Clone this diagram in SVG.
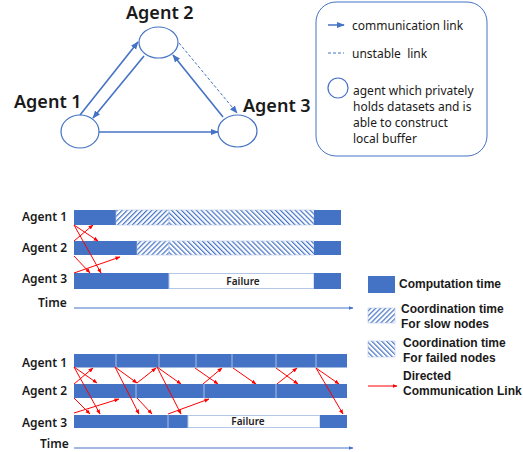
<svg xmlns="http://www.w3.org/2000/svg" width="523" height="452" viewBox="0 0 523 452">
<style>
.lbl{font-family:"Noto Sans","Liberation Sans",sans-serif;font-weight:600;fill:#1a1a1a}
.big{font-size:18px}
.sm{font-size:12px}
.leg{font-family:"Noto Sans","Liberation Sans",sans-serif;font-size:12px;fill:#1a1a1a}
.leg2{font-family:"Liberation Sans",Arial,sans-serif;font-size:12px;font-weight:bold;fill:#1a1a1a}
.node{fill:#fff;stroke:#4472C4;stroke-width:1.2}
.blue{stroke:#4472C4;stroke-width:1.6;fill:none;marker-end:url(#ab)}
.dash{stroke:#4472C4;stroke-width:1;stroke-dasharray:3 2;fill:none;marker-end:url(#ab)}
.red{stroke:#FF0000;stroke-width:1;fill:none;marker-end:url(#ar)}
.bar{fill:#4472C4}
.div{stroke:#A9BEE6;stroke-width:1}
.fail{fill:#fff;stroke:#B4C7E7;stroke-width:1}
.ftxt{font-family:"Noto Sans","Liberation Sans",sans-serif;font-size:10px;font-weight:600;fill:#222;text-anchor:middle}
.time{stroke:#4472C4;stroke-width:1;fill:none;marker-end:url(#at)}
</style>
<defs>
<marker id="ab" viewBox="0 0 10 10" refX="9" refY="5" markerWidth="8" markerHeight="8" markerUnits="userSpaceOnUse" orient="auto"><path d="M0,1 L10,5 L0,9 Z" fill="#4472C4"/></marker>
<marker id="ar" viewBox="0 0 10 10" refX="9" refY="5" markerWidth="5" markerHeight="5" markerUnits="userSpaceOnUse" orient="auto"><path d="M0,1 L10,5 L0,9 Z" fill="#FF0000"/></marker>
<marker id="at" viewBox="0 0 10 10" refX="9" refY="5" markerWidth="5" markerHeight="5" markerUnits="userSpaceOnUse" orient="auto"><path d="M0,1 L10,5 L0,9 Z" fill="#4472C4"/></marker>
<pattern id="slow" width="3.5" height="3.5" patternUnits="userSpaceOnUse" patternTransform="rotate(45)"><rect width="3.5" height="3.5" fill="#fff"/><line x1="0.6" y1="0" x2="0.6" y2="3.5" stroke="#4472C4" stroke-width="1.2"/></pattern>
<pattern id="failed" width="3.5" height="3.5" patternUnits="userSpaceOnUse" patternTransform="rotate(-45)"><rect width="3.5" height="3.5" fill="#fff"/><line x1="0.6" y1="0" x2="0.6" y2="3.5" stroke="#4472C4" stroke-width="1.2"/></pattern>
</defs>

<!-- Top graph -->
<g id="agent1"><ellipse class="node" cx="80" cy="131.5" rx="19" ry="16.5"/><text class="lbl big" x="14" y="108">Agent 1</text></g>
<g id="agent2"><ellipse class="node" cx="158.5" cy="42.5" rx="19.5" ry="15.5"/><text class="lbl big" x="126" y="19">Agent 2</text></g>
<g id="agent3"><ellipse class="node" cx="237.5" cy="131" rx="19.5" ry="16"/><text class="lbl big" x="243" y="112">Agent 3</text></g>
<g id="connectors">
<line class="blue" x1="80" y1="115" x2="138" y2="42"/>
<line class="blue" x1="144" y1="56" x2="93" y2="118"/>
<line class="blue" x1="223" y1="117" x2="173" y2="55"/>
<line class="dash" x1="179" y1="43" x2="237" y2="113"/>
<line class="blue" x1="99" y1="132" x2="218" y2="132"/>
</g>

<!-- Top legend -->
<g id="legend-top">
<rect x="316" y="2" width="171" height="154" rx="20" fill="#fff" stroke="#4472C4" stroke-width="1"/>
<line class="blue" x1="328" y1="25" x2="344" y2="25" style="stroke-width:1.5"/>
<text class="leg" x="352" y="30">communication link</text>
<line x1="328" y1="53" x2="344" y2="53" stroke="#4472C4" stroke-width="1" stroke-dasharray="3 2"/>
<text class="leg" x="352" y="58" xml:space="preserve">unstable  link</text>
<circle cx="338" cy="88" r="10" fill="#fff" stroke="#4472C4" stroke-width="1.2"/>
<text class="leg" x="353" y="95">agent which privately</text>
<text class="leg" x="353" y="111">holds datasets and is</text>
<text class="leg" x="353" y="127">able to construct</text>
<text class="leg" x="353" y="143">local buffer</text>
</g>

<!-- Timeline 1 -->
<g id="timeline1">
<text class="lbl sm" x="22" y="221">Agent 1</text>
<text class="lbl sm" x="22" y="252">Agent 2</text>
<text class="lbl sm" x="22" y="283">Agent 3</text>
<text class="lbl sm" x="38" y="307">Time</text>
<rect class="bar" x="74" y="210" width="42" height="15"/>
<rect x="116" y="210" width="53" height="15" fill="url(#slow)" stroke="#B4C7E7" stroke-width="0.6"/>
<rect x="169" y="210" width="145" height="15" fill="url(#failed)" stroke="#B4C7E7" stroke-width="0.6"/>
<rect class="bar" x="314" y="210" width="27" height="15"/>
<rect class="bar" x="74" y="241" width="63" height="14"/>
<rect x="137" y="241" width="32" height="14" fill="url(#slow)" stroke="#B4C7E7" stroke-width="0.6"/>
<rect x="169" y="241" width="145" height="14" fill="url(#failed)" stroke="#B4C7E7" stroke-width="0.6"/>
<rect class="bar" x="314" y="241" width="27" height="14"/>
<rect class="bar" x="74" y="273" width="95" height="16"/>
<rect class="fail" x="169" y="273.5" width="145" height="15"/>
<rect class="bar" x="314" y="273" width="27" height="16"/>
<text class="ftxt" x="243" y="285">Failure</text>
<line class="time" x1="74" y1="308" x2="353" y2="308"/>
</g>
<g id="links1">
<line class="red" x1="74" y1="225" x2="98" y2="241"/>
<line class="red" x1="74" y1="225" x2="101" y2="273"/>
<line class="red" x1="74" y1="241" x2="93" y2="225"/>
<line class="red" x1="74" y1="256" x2="90" y2="273"/>
<line class="red" x1="74" y1="273" x2="120" y2="257"/>
</g>

<!-- Timeline 2 -->
<g id="timeline2">
<text class="lbl sm" x="22" y="367">Agent 1</text>
<text class="lbl sm" x="22" y="395">Agent 2</text>
<text class="lbl sm" x="22" y="427">Agent 3</text>
<text class="lbl sm" x="40" y="448">Time</text>
<rect class="bar" x="74" y="354" width="273" height="13.5"/>
<line class="div" x1="116" y1="354" x2="116" y2="367.5"/>
<line class="div" x1="159" y1="354" x2="159" y2="367.5"/>
<line class="div" x1="196" y1="354" x2="196" y2="367.5"/>
<line class="div" x1="232" y1="354" x2="232" y2="367.5"/>
<line class="div" x1="276" y1="354" x2="276" y2="367.5"/>
<line class="div" x1="316" y1="354" x2="316" y2="367.5"/>
<rect class="bar" x="74" y="384" width="273" height="14"/>
<line class="div" x1="136" y1="384" x2="136" y2="398"/>
<line class="div" x1="204" y1="384" x2="204" y2="398"/>
<line class="div" x1="276" y1="384" x2="276" y2="398"/>
<rect class="bar" x="74" y="415" width="114" height="13"/>
<line class="div" x1="168" y1="415" x2="168" y2="428"/>
<rect class="fail" x="188" y="415.5" width="132" height="12"/>
<rect class="bar" x="320" y="415" width="27" height="13"/>
<text class="ftxt" x="248" y="425">Failure</text>
<line class="time" x1="74" y1="448" x2="353" y2="448"/>
</g>
<g id="links2">
<line class="red" x1="74" y1="367" x2="97" y2="383"/>
<line class="red" x1="74" y1="367" x2="100" y2="414"/>
<line class="red" x1="74" y1="384" x2="93" y2="368"/>
<line class="red" x1="74" y1="398" x2="90" y2="414"/>
<line class="red" x1="74" y1="413" x2="119" y2="399"/>
<line class="red" x1="115" y1="367" x2="137" y2="383"/>
<line class="red" x1="115" y1="367" x2="139" y2="414"/>
<line class="red" x1="137" y1="383" x2="156" y2="368"/>
<line class="red" x1="137" y1="398" x2="152" y2="414"/>
<line class="red" x1="157" y1="367" x2="181" y2="384"/>
<line class="red" x1="157" y1="367" x2="181" y2="414"/>
<line class="red" x1="168" y1="414" x2="209" y2="399"/>
<line class="red" x1="195" y1="368" x2="218" y2="384"/>
<line class="red" x1="203" y1="384" x2="222" y2="368"/>
<line class="red" x1="233" y1="368" x2="256" y2="384"/>
<line class="red" x1="276" y1="368" x2="298" y2="384"/>
<line class="red" x1="277" y1="384" x2="297" y2="368"/>
<line class="red" x1="316" y1="368" x2="339" y2="384"/>
<line class="red" x1="316" y1="368" x2="343" y2="414"/>
</g>

<!-- Bottom legend -->
<g id="legend-bottom">
<rect class="bar" x="368" y="276" width="27" height="17"/>
<text class="leg2" x="399" y="288">Computation time</text>
<rect x="368" y="308" width="27" height="15" fill="url(#slow)" stroke="#B4C7E7" stroke-width="0.6"/>
<text class="leg2" x="401" y="313">Coordination time</text>
<text class="leg2" x="401" y="327.5">For slow nodes</text>
<rect x="368" y="341" width="27" height="16" fill="url(#failed)" stroke="#B4C7E7" stroke-width="0.6"/>
<text class="leg2" x="403" y="347">Coordination time</text>
<text class="leg2" x="403" y="362">For failed nodes</text>
<line class="red" x1="368" y1="386" x2="397" y2="386"/>
<text class="leg2" x="403" y="380">Directed</text>
<text class="leg2" x="403" y="395">Communication Link</text>
</g>
</svg>
